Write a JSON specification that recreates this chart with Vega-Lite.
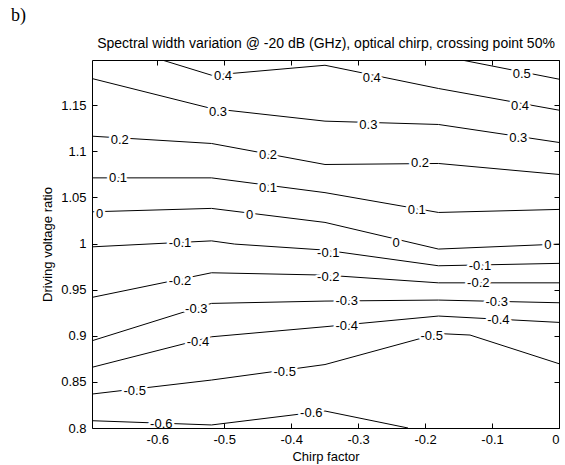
{
  "$schema": "https://vega.github.io/schema/vega-lite/v6.json",
  "width": 467,
  "height": 368,
  "autosize": "none",
  "padding": {"left": 92, "top": 60, "right": 6, "bottom": 37},
  "background": "white",
  "title": {"text": "b)", "anchor": "start", "frame": "group", "font": "Liberation Serif", "fontSize": 18, "fontWeight": "normal", "color": "black", "dx": -81, "offset": 12},
  "config": {
    "view": {"stroke": null},
    "axis": {"domainColor": "black", "domainWidth": 1, "tickColor": "black", "tickWidth": 1, "labelColor": "black", "titleColor": "black", "labelFont": "Liberation Sans", "titleFont": "Liberation Sans", "labelFontSize": 13, "titleFontSize": 13, "titleFontWeight": "normal", "tickSize": -5, "grid": false},
    "text": {"font": "Liberation Sans", "fontSize": 13}
  },
  "datasets": {
    "contours": [
      {"level": "0.5", "x": -0.1434, "y": 1.1987}, {"level": "0.5", "x": 0, "y": 1.1782},
      {"level": "0.4", "x": -0.5915, "y": 1.1987}, {"level": "0.4", "x": -0.519, "y": 1.1825}, {"level": "0.4", "x": -0.3495, "y": 1.1933}, {"level": "0.4", "x": -0.18, "y": 1.1681}, {"level": "0.4", "x": 0, "y": 1.1446},
      {"level": "0.3", "x": -0.6975, "y": 1.1789}, {"level": "0.3", "x": -0.519, "y": 1.1464}, {"level": "0.3", "x": -0.3495, "y": 1.1327}, {"level": "0.3", "x": -0.18, "y": 1.1291}, {"level": "0.3", "x": 0, "y": 1.1096},
      {"level": "0.2", "x": -0.6975, "y": 1.1164}, {"level": "0.2", "x": -0.519, "y": 1.1085}, {"level": "0.2", "x": -0.3495, "y": 1.0857}, {"level": "0.2", "x": -0.18, "y": 1.0868}, {"level": "0.2", "x": 0, "y": 1.0749},
      {"level": "0.1", "x": -0.6975, "y": 1.0712}, {"level": "0.1", "x": -0.519, "y": 1.0712}, {"level": "0.1", "x": -0.3495, "y": 1.0552}, {"level": "0.1", "x": -0.18, "y": 1.0337}, {"level": "0.1", "x": 0, "y": 1.037},
      {"level": "0", "x": -0.6975, "y": 1.0344}, {"level": "0", "x": -0.519, "y": 1.0381}, {"level": "0", "x": -0.3495, "y": 1.0229}, {"level": "0", "x": -0.18, "y": 0.994}, {"level": "0", "x": 0, "y": 0.9994},
      {"level": "-0.1", "x": -0.6975, "y": 0.9964}, {"level": "-0.1", "x": -0.519, "y": 1.0029}, {"level": "-0.1", "x": -0.4844, "y": 0.9994}, {"level": "-0.1", "x": -0.3495, "y": 0.9929}, {"level": "-0.1", "x": -0.18, "y": 0.9759}, {"level": "-0.1", "x": 0, "y": 0.9785},
      {"level": "-0.2", "x": -0.6975, "y": 0.9416}, {"level": "-0.2", "x": -0.519, "y": 0.9683}, {"level": "-0.2", "x": -0.3495, "y": 0.9658}, {"level": "-0.2", "x": -0.18, "y": 0.9574}, {"level": "-0.2", "x": 0, "y": 0.9574},
      {"level": "-0.3", "x": -0.6975, "y": 0.8946}, {"level": "-0.3", "x": -0.519, "y": 0.9351}, {"level": "-0.3", "x": -0.3495, "y": 0.9376}, {"level": "-0.3", "x": -0.18, "y": 0.9387}, {"level": "-0.3", "x": 0, "y": 0.9358},
      {"level": "-0.4", "x": -0.6975, "y": 0.8658}, {"level": "-0.4", "x": -0.519, "y": 0.8989}, {"level": "-0.4", "x": -0.3495, "y": 0.9098}, {"level": "-0.4", "x": -0.18, "y": 0.9214}, {"level": "-0.4", "x": 0, "y": 0.9145},
      {"level": "-0.5", "x": -0.6975, "y": 0.8368}, {"level": "-0.5", "x": -0.519, "y": 0.852}, {"level": "-0.5", "x": -0.3495, "y": 0.8688}, {"level": "-0.5", "x": -0.18, "y": 0.9024}, {"level": "-0.5", "x": -0.1329, "y": 0.9008}, {"level": "-0.5", "x": 0, "y": 0.8697},
      {"level": "-0.6", "x": -0.6975, "y": 0.8079}, {"level": "-0.6", "x": -0.519, "y": 0.8033}, {"level": "-0.6", "x": -0.3495, "y": 0.8184}, {"level": "-0.6", "x": -0.2255, "y": 0.8}
    ],
    "labels": [
      {"label": "0.4", "x": -0.5018, "y": 1.1817},
      {"label": "0.4", "x": -0.2797, "y": 1.18},
      {"label": "0.5", "x": -0.0557, "y": 1.1843},
      {"label": "0.4", "x": -0.0582, "y": 1.1492},
      {"label": "0.3", "x": -0.5093, "y": 1.1427},
      {"label": "0.3", "x": -0.2848, "y": 1.1283},
      {"label": "0.3", "x": -0.0608, "y": 1.1139},
      {"label": "0.2", "x": -0.6561, "y": 1.1121},
      {"label": "0.2", "x": -0.4346, "y": 1.0958},
      {"label": "0.2", "x": -0.2076, "y": 1.0868},
      {"label": "0.1", "x": -0.6587, "y": 1.0712},
      {"label": "0.1", "x": -0.4346, "y": 1.0604},
      {"label": "0.1", "x": -0.2125, "y": 1.0362},
      {"label": "0", "x": -0.686, "y": 1.0319},
      {"label": "0", "x": -0.462, "y": 1.0308},
      {"label": "0", "x": -0.2434, "y": 1.0001},
      {"label": "0", "x": -0.0168, "y": 0.9983},
      {"label": "-0.1", "x": -0.566, "y": 1.0001},
      {"label": "-0.1", "x": -0.3446, "y": 0.9893},
      {"label": "-0.1", "x": -0.118, "y": 0.9755},
      {"label": "-0.2", "x": -0.566, "y": 0.9596},
      {"label": "-0.2", "x": -0.3446, "y": 0.9633},
      {"label": "-0.2", "x": -0.1205, "y": 0.9568},
      {"label": "-0.3", "x": -0.5417, "y": 0.9286},
      {"label": "-0.3", "x": -0.3171, "y": 0.9376},
      {"label": "-0.3", "x": -0.093, "y": 0.9369},
      {"label": "-0.4", "x": -0.5392, "y": 0.8935},
      {"label": "-0.4", "x": -0.3171, "y": 0.9105},
      {"label": "-0.4", "x": -0.0906, "y": 0.917},
      {"label": "-0.5", "x": -0.6337, "y": 0.8404},
      {"label": "-0.5", "x": -0.4097, "y": 0.861},
      {"label": "-0.5", "x": -0.1901, "y": 0.9},
      {"label": "-0.6", "x": -0.594, "y": 0.804},
      {"label": "-0.6", "x": -0.37, "y": 0.8159}
    ]
  },
  "resolve": {"scale": {"x": "shared", "y": "shared"}, "axis": {"x": "independent", "y": "independent"}},
  "layer": [
    {
      "data": {"name": "contours"},
      "mark": {"type": "line", "color": "black", "strokeWidth": 1, "clip": true},
      "encoding": {
        "x": {"field": "x", "type": "quantitative", "scale": {"domain": [-0.6975, 0], "nice": false, "zero": false},
              "axis": {"orient": "bottom", "values": [-0.6, -0.5, -0.4, -0.3, -0.2, -0.1, 0], "labelExpr": "toString(datum.value)", "title": "Chirp factor", "labelPadding": 10, "titlePadding": 4}},
        "y": {"field": "y", "type": "quantitative", "scale": {"domain": [0.8, 1.199], "nice": false, "zero": false},
              "axis": {"orient": "left", "values": [0.8, 0.85, 0.9, 0.95, 1, 1.05, 1.1, 1.15], "labelExpr": "toString(datum.value)", "title": "Driving voltage ratio", "labelPadding": 11, "titlePadding": 6}},
        "detail": {"field": "level", "type": "nominal"}
      }
    },
    {
      "data": {"name": "labels"},
      "mark": {"type": "text", "color": "white", "stroke": "white", "strokeWidth": 5, "strokeJoin": "round", "clip": true},
      "encoding": {
        "x": {"field": "x", "type": "quantitative", "scale": {"domain": [-0.6975, 0], "nice": false, "zero": false},
              "axis": {"orient": "top", "values": [-0.6, -0.5, -0.4, -0.3, -0.2, -0.1, 0], "labels": false, "title": "Spectral width variation @ -20 dB (GHz), optical chirp, crossing point 50%", "titleFontSize": 14, "titlePadding": 9}},
        "y": {"field": "y", "type": "quantitative", "scale": {"domain": [0.8, 1.199], "nice": false, "zero": false},
              "axis": {"orient": "right", "values": [0.8, 0.85, 0.9, 0.95, 1, 1.05, 1.1, 1.15], "labels": false, "title": null}},
        "text": {"field": "label", "type": "nominal"}
      }
    },
    {
      "data": {"name": "labels"},
      "mark": {"type": "text", "color": "black", "clip": true},
      "encoding": {
        "x": {"field": "x", "type": "quantitative", "scale": {"domain": [-0.6975, 0], "nice": false, "zero": false}, "axis": null},
        "y": {"field": "y", "type": "quantitative", "scale": {"domain": [0.8, 1.199], "nice": false, "zero": false}, "axis": null},
        "text": {"field": "label", "type": "nominal"}
      }
    }
  ]
}
